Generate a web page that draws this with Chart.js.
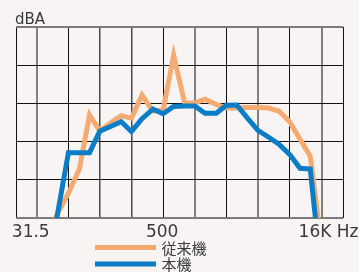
<!DOCTYPE html>
<html>
<head>
<meta charset="utf-8">
<script src="https://cdn.jsdelivr.net/npm/chart.js@4.4.1/dist/chart.umd.min.js"></script>
<style>
html,body{margin:0;padding:0;background:#f7f4f3;}
#wrap{width:359px;height:272px;position:relative;}
</style>
</head>
<body>
<div id="wrap"><canvas id="c" width="359" height="272"></canvas></div>
<script>
// 1/3-octave band centre frequencies (Hz)
const freqs = [40,50,63,80,100,125,160,200,250,315,400,500,630,800,1000,1250,1600,2000,2500,3150,4000,5000,6300,8000,10000,12500,16000];
// 従来機 (conventional unit), dBA in grid units
const conventional = [-4,1.3,6.5,12.8,27,22.8,25,26.8,26.1,32.2,28,28.3,42.6,30.1,30.1,31.1,29.7,28.8,28.8,28.9,28.9,28.8,28.0,25.1,20.6,16.2,-7];
// 本機 (this unit)
const thisUnit = [-14,1.6,17.1,17.1,17.1,22.7,24.0,25.2,22.6,26.0,28.5,27.3,29.2,29.3,29.3,27.4,27.4,29.5,29.6,26.2,22.9,21.2,19.3,16.6,13.0,12.8,-15];
const seriesNames = ['従来機','本機'];
// x grid (octave) lines, including the plot edges
const gridFreqs = [20,31.5,63,125,250,500,1000,2000,4000,8000,16000,25600];
const gridKinds = ['k','g','k','d','d','k','g','k','g','k','g','k'];
const tickFreqs = [31.5,500,16000];
const tickTexts = ['31.5','500','16K Hz'];
const yUnit = 'dBA';

const ORANGE = '#f5aa72', BLUE = '#0a7dc6', TXT = '#3a3a3a';

const overlay = {
  id:'overlay',
  afterDraw(chart){
    const ctx = chart.ctx, xs = chart.scales.x, area = chart.chartArea;
    ctx.save();
    ctx.fillStyle = TXT;
    ctx.font = '15px "DejaVu Sans", sans-serif';
    ctx.textAlign = 'left'; ctx.textBaseline = 'alphabetic';
    ctx.fillText(yUnit, area.left - 1, 23.5);
    ctx.font = '17px "DejaVu Sans", sans-serif';
    ctx.textAlign = 'center';
    const dx = [-6, -1, 7];
    tickFreqs.forEach((f,i)=>{
      ctx.fillText(tickTexts[i], xs.getPixelForValue(f) + dx[i], 237);
    });
    // legend
    const items = [{c:ORANGE,t:seriesNames[0],y:247.5},{c:BLUE,t:seriesNames[1],y:264}];
    ctx.font = '15px "Noto Sans CJK JP", sans-serif';
    ctx.textAlign = 'left'; ctx.textBaseline = 'middle';
    items.forEach(it=>{
      ctx.fillStyle = it.c;
      ctx.fillRect(95, it.y - 2.5, 61, 5);
      ctx.fillStyle = TXT;
      ctx.fillText(it.t, 161.5, it.y + 0.5);
    });
    ctx.restore();
  }
};

const gridColor = k => k==='k' ? '#111' : (k==='d' ? '#4a4a4a' : '#808080');
const gridWidth = k => k==='k' ? 1 : (k==='d' ? 1.5 : 2);

new Chart(document.getElementById('c'), {
  type:'line',
  data:{
    datasets:[
      {label:seriesNames[1], data:freqs.map((f,i)=>({x:f,y:thisUnit[i]})), borderColor:BLUE, borderWidth:5, pointRadius:0, tension:0, clip:0, order:0},
      {label:seriesNames[0], data:freqs.map((f,i)=>({x:f,y:conventional[i]})), borderColor:ORANGE, borderWidth:5, pointRadius:0, tension:0, clip:0, order:1}
    ]
  },
  options:{
    responsive:false, animation:false, devicePixelRatio:1,
    layout:{padding:{left:16,top:27,right:16,bottom:54}},
    plugins:{legend:{display:false}, tooltip:{enabled:false}},
    scales:{
      x:{
        type:'logarithmic', min:20, max:25600,
        afterBuildTicks: ax => { ax.ticks = gridFreqs.map(v=>({value:v})); },
        ticks:{display:false},
        border:{display:false},
        grid:{drawTicks:false,
          color: c => gridColor(gridKinds[gridFreqs.indexOf(c.tick.value)] || 'k'),
          lineWidth: c => gridWidth(gridKinds[gridFreqs.indexOf(c.tick.value)] || 'k')}
      },
      y:{
        min:0, max:50,
        ticks:{display:false, stepSize:10},
        border:{display:false},
        grid:{drawTicks:false,
          color: c => (c.tick.value===50 || c.tick.value===0) ? '#7a7a7a' : '#111',
          lineWidth: c => (c.tick.value===50 || c.tick.value===0) ? 2 : 1}
      }
    }
  },
  plugins:[overlay]
});
</script>
</body>
</html>
